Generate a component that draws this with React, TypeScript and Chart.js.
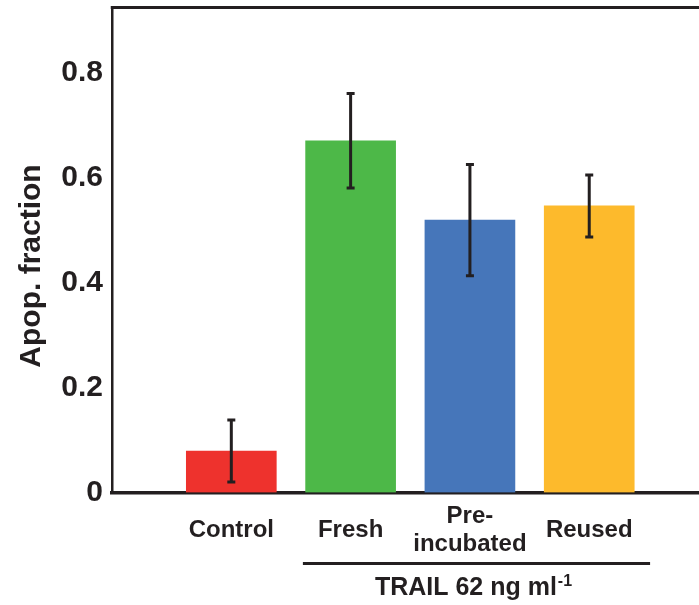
import { useEffect, useRef } from 'react';
import { Chart, registerables } from 'chart.js';

Chart.register(...registerables);

// ---- data ----
const categories: string[][] = [['Control'], ['Fresh'], ['Pre-', 'incubated'], ['Reused']];
const apopFraction = [0.079, 0.67, 0.519, 0.546];
const errorValues = [0.059, 0.09, 0.106, 0.059];
const barColors = ['#EE322D', '#4DB848', '#4676BA', '#FDBA2C'];
const yTicks = [0, 0.2, 0.4, 0.6, 0.8];
const yTitle = 'Apop. fraction';
const groupLabel = 'TRAIL 62 ng ml';
const groupLabelSup = '-1';

const INK = '#231F20';
const FAMILY = "'Liberation Sans', Arial, Helvetica, sans-serif";

const errorBarPlugin = {
  id: 'errorBars',
  afterDatasetsDraw(chart: any) {
    const ctx = chart.ctx;
    const y = chart.scales.y;
    const meta = chart.getDatasetMeta(0);
    ctx.save();
    ctx.strokeStyle = INK;
    ctx.lineWidth = 3;
    meta.data.forEach((el: any, i: number) => {
      const v = apopFraction[i];
      const e = errorValues[i];
      const yt = y.getPixelForValue(v + e);
      const yb = y.getPixelForValue(v - e);
      ctx.beginPath();
      ctx.moveTo(el.x, yt);
      ctx.lineTo(el.x, yb);
      ctx.moveTo(el.x - 4, yt);
      ctx.lineTo(el.x + 4, yt);
      ctx.moveTo(el.x - 4, yb);
      ctx.lineTo(el.x + 4, yb);
      ctx.stroke();
    });
    ctx.restore();
  },
};

const framePlugin = {
  id: 'frameAndGroup',
  afterDraw(chart: any) {
    const { ctx, chartArea } = chart;
    const x = chart.scales.x;
    ctx.save();
    ctx.strokeStyle = INK;
    ctx.lineWidth = 3;
    // top frame line
    ctx.beginPath();
    ctx.moveTo(chartArea.left - 1.25, chartArea.top);
    ctx.lineTo(chartArea.right, chartArea.top);
    ctx.stroke();
    // group bracket
    const x1 = x.getPixelForValue(1.6);
    const x2 = x.getPixelForValue(4.51);
    const yl = chartArea.bottom + 71;
    ctx.beginPath();
    ctx.moveTo(x1, yl);
    ctx.lineTo(x2, yl);
    ctx.stroke();
    // group label with superscript
    ctx.fillStyle = INK;
    ctx.textAlign = 'left';
    ctx.textBaseline = 'alphabetic';
    ctx.font = `bold 25px ${FAMILY}`;
    const w1 = ctx.measureText(groupLabel).width;
    ctx.font = `bold 16px ${FAMILY}`;
    const w2 = ctx.measureText(groupLabelSup).width;
    const total = w1 + 1 + w2;
    const tx = (x1 + x2) / 2 - 3 - total / 2;
    const by = chartArea.bottom + 102.5;
    ctx.font = `bold 25px ${FAMILY}`;
    ctx.fillText(groupLabel, tx, by);
    ctx.font = `bold 16px ${FAMILY}`;
    ctx.fillText(groupLabelSup, tx + w1 + 1, by - 9);
    // y-axis title
    ctx.translate(31.4, (chartArea.top + chartArea.bottom) / 2 + 16);
    ctx.rotate(-Math.PI / 2);
    ctx.textAlign = 'center';
    ctx.textBaseline = 'middle';
    ctx.font = `bold 30px ${FAMILY}`;
    ctx.fillText(yTitle, 0, 0);
    ctx.restore();
  },
};

export default function App() {
  const canvasRef = useRef<HTMLCanvasElement | null>(null);

  useEffect(() => {
    if (!canvasRef.current) return;
    const chart = new Chart(canvasRef.current, {
      type: 'bar',
      data: {
        datasets: [
          {
            data: apopFraction.map((v, i) => ({ x: i + 1, y: v })),
            backgroundColor: barColors,
            borderWidth: 0,
            barThickness: 90,
          },
        ],
      },
      options: {
        responsive: false,
        animation: false,
        devicePixelRatio: 1,
        layout: { padding: { top: 7.5, right: 0, left: 0, bottom: 0 } },
        plugins: { legend: { display: false }, tooltip: { enabled: false } },
        scales: {
          x: {
            type: 'linear',
            min: 0,
            max: 4.92,
            offset: false,
            grid: { display: false, drawTicks: false },
            border: { display: true, color: INK, width: 3.5 },
            afterBuildTicks: (s: any) => {
              s.ticks = categories.map((_, i) => ({ value: i + 1 }));
            },
            afterFit: (s: any) => {
              s.height = 112.5;
              s.paddingLeft = 0;
              s.paddingRight = 0;
            },
            ticks: {
              autoSkip: false,
              maxRotation: 0,
              minRotation: 0,
              padding: 24,
              crossAlign: 'center',
              color: INK,
              font: { family: FAMILY, size: 24, weight: 'bold', lineHeight: 1.1667 },
              callback: (v: any) => categories[Math.round(v) - 1] ?? '',
            },
          },
          y: {
            min: 0,
            max: 0.924,
            grid: { display: false, drawTicks: false },
            border: { display: true, color: INK, width: 2.5 },
            afterBuildTicks: (s: any) => {
              s.ticks = yTicks.map((v) => ({ value: v }));
            },
            afterFit: (s: any) => {
              s.width = 112;
              s.paddingTop = 0;
              s.paddingBottom = 0;
            },
            ticks: {
              padding: 9,
              color: INK,
              font: { family: FAMILY, size: 30, weight: 'bold' },
              callback: (v: any) => (v === 0 ? '0' : Number(v).toFixed(1)),
            },
            title: { display: false },
          },
        },
      } as any,
      plugins: [errorBarPlugin, framePlugin],
    });
    return () => chart.destroy();
  }, []);

  return (
    <div style={{ position: 'absolute', left: 0, top: 0, width: 699, height: 605, background: '#fff' }}>
      <canvas ref={canvasRef} width={699} height={605} style={{ display: 'block' }} />
    </div>
  );
}
